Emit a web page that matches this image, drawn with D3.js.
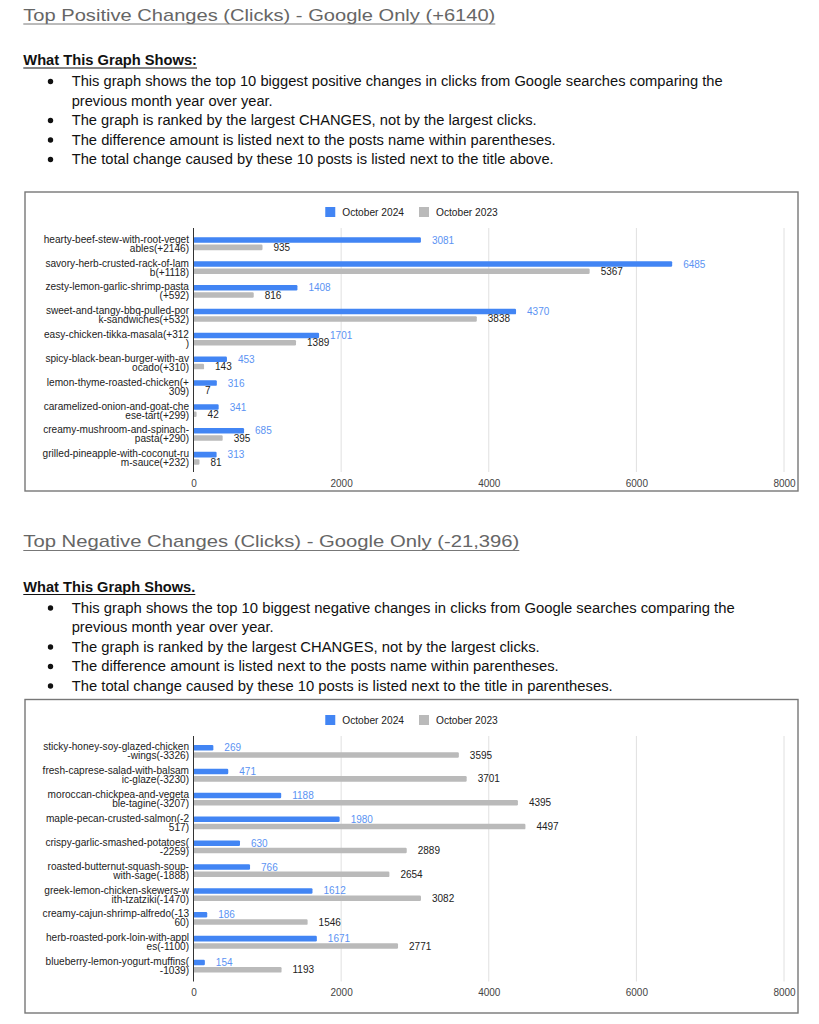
<!DOCTYPE html>
<html lang="en">
<head>
<meta charset="UTF-8">
<title>Top Changes (Clicks) - Google Only</title>
<script src="https://d3js.org/d3.v7.min.js"></script>
<style>
  body { margin: 0; background: #fff; }
  svg text { font-family: "Liberation Sans", Arial, sans-serif; }
</style>
</head>
<body>
<div id="page"></div>
<script>
// ---------- data ----------
const seriesNames = ["October 2024", "October 2023"];
const xTicks = [0, 2000, 4000, 6000, 8000];

const posTitle = "Top Positive Changes (Clicks) - Google Only (+6140)";
const posHeading = "What This Graph Shows:";
const posBullets = [
  ["This graph shows the top 10 biggest positive changes in clicks from Google searches comparing the",
   "previous month year over year."],
  ["The graph is ranked by the largest CHANGES, not by the largest clicks."],
  ["The difference amount is listed next to the posts name within parentheses."],
  ["The total change caused by these 10 posts is listed next to the title above."]
];
const posLabels = [
  ["hearty-beef-stew-with-root-veget", "ables(+2146)"],
  ["savory-herb-crusted-rack-of-lam", "b(+1118)"],
  ["zesty-lemon-garlic-shrimp-pasta", "(+592)"],
  ["sweet-and-tangy-bbq-pulled-por", "k-sandwiches(+532)"],
  ["easy-chicken-tikka-masala(+312", ")"],
  ["spicy-black-bean-burger-with-av", "ocado(+310)"],
  ["lemon-thyme-roasted-chicken(+", "309)"],
  ["caramelized-onion-and-goat-che", "ese-tart(+299)"],
  ["creamy-mushroom-and-spinach-", "pasta(+290)"],
  ["grilled-pineapple-with-coconut-ru", "m-sauce(+232)"]
];
const posOct2024 = [3081, 6485, 1408, 4370, 1701, 453, 316, 341, 685, 313];
const posOct2023 = [935, 5367, 816, 3838, 1389, 143, 7, 42, 395, 81];

const negTitle = "Top Negative Changes (Clicks) - Google Only (-21,396)";
const negHeading = "What This Graph Shows.";
const negBullets = [
  ["This graph shows the top 10 biggest negative changes in clicks from Google searches comparing the",
   "previous month year over year."],
  ["The graph is ranked by the largest CHANGES, not by the largest clicks."],
  ["The difference amount is listed next to the posts name within parentheses."],
  ["The total change caused by these 10 posts is listed next to the title in parentheses."]
];
const negLabels = [
  ["sticky-honey-soy-glazed-chicken", "-wings(-3326)"],
  ["fresh-caprese-salad-with-balsam", "ic-glaze(-3230)"],
  ["moroccan-chickpea-and-vegeta", "ble-tagine(-3207)"],
  ["maple-pecan-crusted-salmon(-2", "517)"],
  ["crispy-garlic-smashed-potatoes(", "-2259)"],
  ["roasted-butternut-squash-soup-", "with-sage(-1888)"],
  ["greek-lemon-chicken-skewers-w", "ith-tzatziki(-1470)"],
  ["creamy-cajun-shrimp-alfredo(-13", "60)"],
  ["herb-roasted-pork-loin-with-appl", "es(-1100)"],
  ["blueberry-lemon-yogurt-muffins(", "-1039)"]
];
const negOct2024 = [269, 471, 1188, 1980, 630, 766, 1612, 186, 1671, 154];
const negOct2023 = [3595, 3701, 4395, 4497, 2889, 2654, 3082, 1546, 2771, 1193];

// ---------- layout ----------
const W = 819, H = 1024;
const colors = ["#4285f4", "#bababa"];
const labelColors = ["#5b93f3", "#222"];

const svg = d3.select("#page").append("svg")
    .attr("width", W).attr("height", H);

const x = d3.scaleLinear().domain([0, 8000]).range([193.5, 784]);

// text block above each chart
function drawText(top, title, titleW, heading, headingW, bullets, lineW) {
    const g = svg.append("g").attr("transform", `translate(0,${top})`);

    g.append("text")
        .attr("x", 23.3).attr("y", 20.7)
        .attr("font-size", 17).attr("fill", "#666")
        .attr("textLength", titleW).attr("lengthAdjust", "spacingAndGlyphs")
        .text(title);
    g.append("line")
        .attr("x1", 23.3).attr("x2", 23.3 + titleW)
        .attr("y1", 24).attr("y2", 24)
        .attr("stroke", "#777").attr("stroke-width", 1);

    g.append("text")
        .attr("x", 23.3).attr("y", 65)
        .attr("font-size", 14).attr("font-weight", "bold").attr("fill", "#111")
        .attr("textLength", headingW).attr("lengthAdjust", "spacingAndGlyphs")
        .text(heading);
    g.append("line")
        .attr("x1", 23.3).attr("x2", 23.3 + headingW)
        .attr("y1", 68).attr("y2", 68)
        .attr("stroke", "#111").attr("stroke-width", 1.2);

    let y = 86.2, k = 0;
    bullets.forEach(b => {
        g.append("circle")
            .attr("cx", 50.5).attr("cy", y - 4.7).attr("r", 2.7)
            .attr("fill", "#111");
        b.forEach(line => {
            g.append("text")
                .attr("x", 71.7).attr("y", y)
                .attr("font-size", 14.7).attr("fill", "#111")
                .attr("textLength", lineW[k]).attr("lengthAdjust", "spacingAndGlyphs")
                .text(line);
            y += 19.5; k++;
        });
    });
}

function drawChart(cfg, labels, v24, v23) {
    const data = labels.map((l, i) => ({ label: l, vals: [v24[i], v23[i]] }));
    const g = svg.append("g");

    // box
    g.append("rect")
        .attr("x", 25).attr("y", cfg.top)
        .attr("width", 773).attr("height", cfg.boxH)
        .attr("fill", "#fff").attr("stroke", "#777").attr("stroke-width", 1.4);

    // legend, centered on the box
    const leg = g.append("g");
    let lx = 0;
    seriesNames.forEach((s, i) => {
        leg.append("rect")
            .attr("x", lx).attr("y", cfg.legendY - 5)
            .attr("width", 10).attr("height", 10)
            .attr("fill", colors[i]);
        const t = leg.append("text")
            .attr("x", lx + 17).attr("y", cfg.legendY + 3.6)
            .attr("font-size", 10.2).attr("fill", "#222")
            .text(s);
        lx += 17 + t.node().getComputedTextLength() + 15;
    });
    const legW = lx - 15;
    leg.attr("transform", `translate(${25 + 773 / 2 - legW / 2},0)`);

    // gridlines
    g.append("g").selectAll("line")
        .data(xTicks.filter(d => d > 0))
        .join("line")
        .attr("x1", d => x(d)).attr("x2", d => x(d))
        .attr("y1", cfg.gridTop).attr("y2", cfg.gridBot)
        .attr("stroke", "#e0e0e0").attr("stroke-width", 1);

    // x axis labels
    const ax = g.append("g")
        .attr("transform", `translate(0,${cfg.gridBot})`)
        .call(d3.axisBottom(x).tickValues(xTicks).tickSize(0).tickPadding(7.5).tickFormat(d3.format("d")));
    ax.select(".domain").remove();
    ax.selectAll("text")
        .attr("font-size", 10).attr("fill", "#444")
        .style("font-family", "'Liberation Sans', Arial, sans-serif");

    const y = d3.scaleBand()
        .domain(d3.range(data.length))
        .range([cfg.bandTop, cfg.bandBot])
        .paddingInner(0.462).paddingOuter(0.231);
    const ys = d3.scaleBand()
        .domain([0, 1])
        .range([0, y.bandwidth()])
        .paddingInner(0.247);

    const rows = g.append("g").selectAll("g.row")
        .data(data).join("g")
        .attr("class", "row")
        .attr("transform", (d, i) => `translate(0,${y(i)})`);

    // bars
    rows.selectAll("rect")
        .data(d => d.vals)
        .join("rect")
        .attr("x", x(0))
        .attr("y", (v, j) => ys(j))
        .attr("width", v => x(v) - x(0))
        .attr("height", ys.bandwidth())
        .attr("rx", 1.2)
        .attr("fill", (v, j) => colors[j]);

    // value labels
    rows.selectAll("text.val")
        .data(d => d.vals)
        .join("text")
        .attr("class", "val")
        .attr("x", v => x(v) + 11)
        .attr("y", (v, j) => ys(j) + ys.bandwidth() / 2 + 3.6)
        .attr("font-size", 10)
        .attr("fill", (v, j) => labelColors[j])
        .text(v => v);

    // category labels (two lines)
    const lab = rows.append("text")
        .attr("text-anchor", "end")
        .attr("font-size", 10.1).attr("fill", "#222");
    lab.selectAll("tspan")
        .data(d => d.label)
        .join("tspan")
        .attr("x", 189)
        .attr("y", (l, k) => y.bandwidth() / 2 - 1 + k * 9)
        .text(l => l);

    // baseline at 0
    g.append("line")
        .attr("x1", x(0)).attr("x2", x(0))
        .attr("y1", cfg.gridTop).attr("y2", cfg.gridBot)
        .attr("stroke", "#333").attr("stroke-width", 1);
}

drawText(0, posTitle, 472, posHeading, 173.7, posBullets, [651, 201, 465, 484, 482]);
drawChart({ top: 192, boxH: 299, legendY: 212, gridTop: 228, gridBot: 472, bandTop: 231.8, bandBot: 470.2 },
    posLabels, posOct2024, posOct2023);

drawText(526.5, negTitle, 496, negHeading, 172, negBullets, [663, 202, 468, 487, 541]);
drawChart({ top: 699.5, boxH: 313.5, legendY: 720, gridTop: 736, gridBot: 981.5, bandTop: 739.4, bandBot: 978.1 },
    negLabels, negOct2024, negOct2023);
</script>
</body>
</html>
